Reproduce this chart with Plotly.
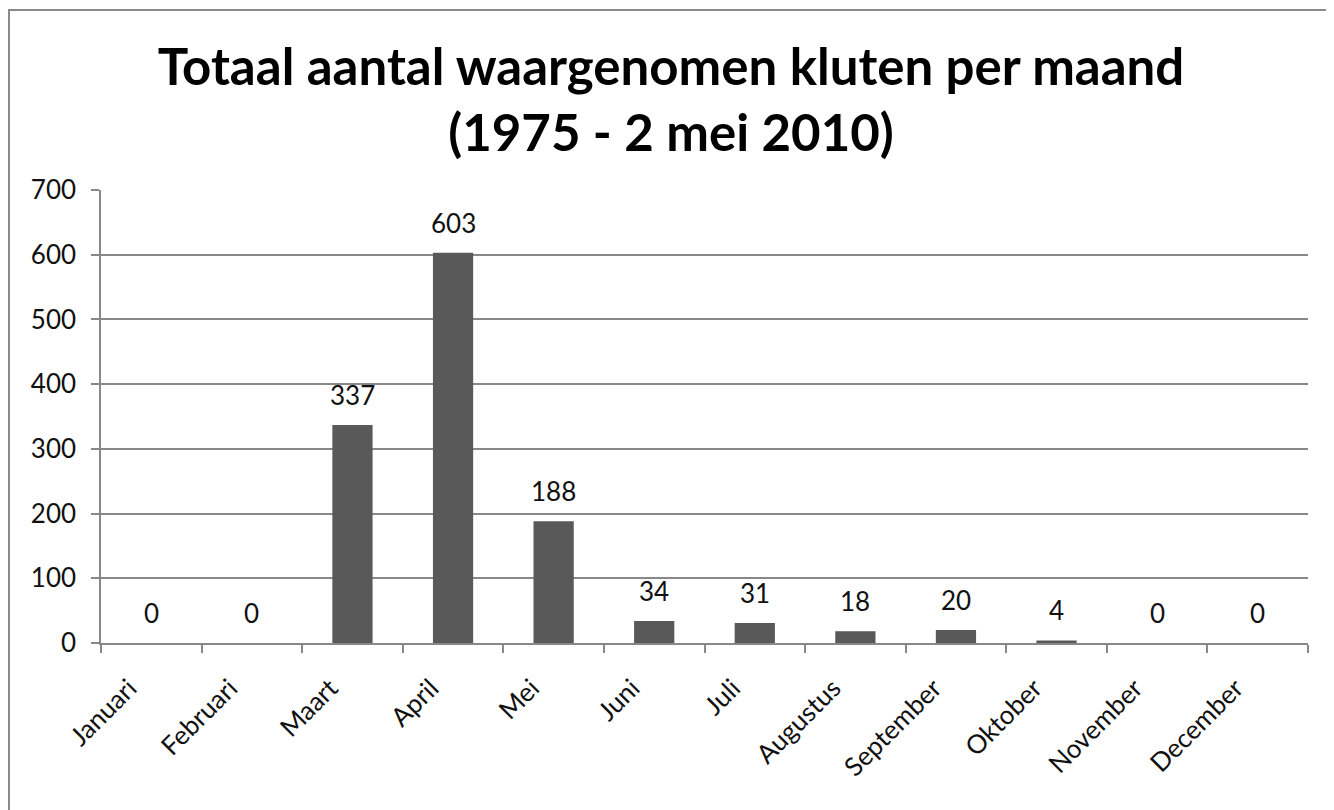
import plotly.graph_objects as go

months = ["Januari", "Februari", "Maart", "April", "Mei", "Juni", "Juli",
          "Augustus", "September", "Oktober", "November", "December"]
counts = [0, 0, 337, 603, 188, 34, 31, 18, 20, 4, 0, 0]
y_ticks = [0, 100, 200, 300, 400, 500, 600, 700]
title_text = "Totaal aantal waargenomen kluten per maand<br>(1975 - 2 mei 2010)"

# page body has an 8px margin; figure sized to fit the window
W, H = 1326, 802
L, R, T, B = 93, 26, 182, 167
pw, ph = W - L - R, H - T - B

FONT = "Lato"

fig = go.Figure(go.Bar(
    x=months, y=counts,
    marker=dict(color="#595959", line=dict(width=0)),
    width=0.4,
    hoverinfo="x+y",
))

annotations = [
    dict(x=m, y=c, xref="x", yref="y", text=str(c), showarrow=False,
         yanchor="middle", yshift=30,
         font=dict(family=FONT, size=26, color="#111111"))
    for m, c in zip(months, counts)
]

def px_to_paper_x(px):
    return (px - L) / pw

def px_to_paper_y(py):
    return (H - B - py) / ph

fig.update_layout(
    width=W, height=H,
    margin=dict(l=L, r=R, t=T, b=B, autoexpand=False),
    paper_bgcolor="white", plot_bgcolor="white",
    title=dict(text=title_text, x=0.5, xanchor="center", xref="container",
               y=1 - 77 / H, yanchor="middle", yref="container",
               font=dict(family=FONT, size=51, color="black", weight="bold")),
    font=dict(family=FONT, color="#111111"),
    showlegend=False,
    annotations=annotations,
    shapes=[dict(type="rect", xref="paper", yref="paper",
                 x0=px_to_paper_x(1), x1=px_to_paper_x(1322),
                 y0=px_to_paper_y(805), y1=px_to_paper_y(2),
                 line=dict(color="#8a8a8a", width=2), fillcolor="rgba(0,0,0,0)",
                 layer="below")],
)

fig.update_xaxes(
    type="category", tickson="boundaries",
    ticks="outside", ticklen=8, tickcolor="#888888", tickwidth=1.5,
    showline=True, linecolor="#888888", linewidth=1.5,
    tickangle=-45, tickfont=dict(family=FONT, size=26, color="#111111"),
    ticklabelstandoff=18, ticklabelshift=-22,
    showgrid=False,
)
fig.update_yaxes(
    range=[0, 700], tickvals=y_ticks,
    ticks="outside", ticklen=8, tickcolor="#888888", tickwidth=1.5,
    showline=True, linecolor="#888888", linewidth=1.5,
    showgrid=True, gridcolor="#888888", gridwidth=1.5,
    tickfont=dict(family=FONT, size=26, color="#111111"),
    ticklabelstandoff=10,
    zeroline=False,
)

fig.write_html("out.html")
